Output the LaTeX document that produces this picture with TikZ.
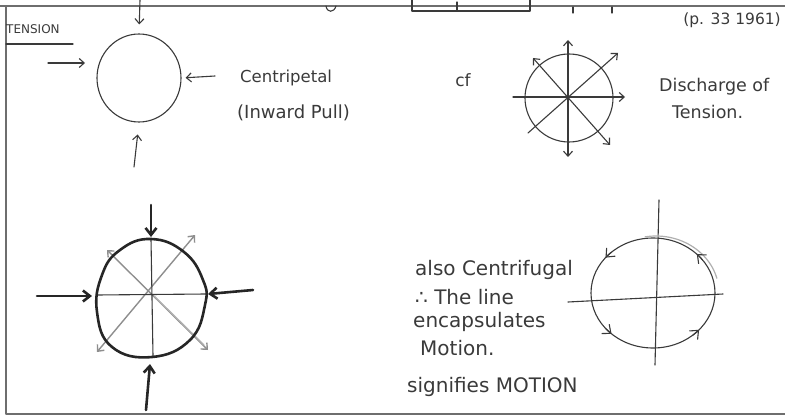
\documentclass[tikz,border=0pt]{standalone}
\usepackage{fontspec}
\setmainfont{DejaVu Sans}
\usetikzlibrary{arrows.meta,shapes.geometric}
\definecolor{ink}{HTML}{3A3A3A}
\definecolor{faint}{HTML}{8E8E8E}
\definecolor{edge}{HTML}{6E6E6E}
\tikzset{
  >={Straight Barb[length=5pt,width=9pt]},
  pen/.style={draw=ink,line width=1.1pt},
  heavy/.style={draw=black!85,line width=2.6pt},
  grey/.style={draw=faint,line width=1.4pt},
  ring/.style={ellipse,pen,inner sep=0pt},
  hand/.style={text=ink,font=\fontsize{#1}{#1}\selectfont,inner sep=0pt},
  hand/.default=13,
  frame/.style={draw=edge,line width=1.6pt}
}
\begin{document}
\begin{tikzpicture}[x=1pt,y=-1pt,line cap=round,line join=round]
\useasboundingbox (0,0) rectangle (785,417);
\draw[frame] (0,6) -- (785,6);
\draw[frame] (6,6) -- (6,414) -- (785,414);
% bits cut off at the top edge
\draw[pen] (412,0) -- (412,11) -- (530,11) -- (530,0);
\draw[pen] (457,2) -- (457,11);
\draw[pen] (573,7) -- (573,13);
\draw[pen] (612,7) -- (612,13);
\draw[pen] (326,6) .. controls (327,13) and (334,13) .. (336,6);

% top left: inward pull
\node[ring,minimum width=84pt,minimum height=88pt] (pull) at (139,78) {};
\node[hand=12,anchor=west] (tension) at (6,29) {TENSION};
\draw[pen] (6,44) -- (73,44);
\node[hand=16.5,anchor=west] (centri) at (240,78) {Centripetal};
\node[hand=18,anchor=west] (inward) at (237,113) {(Inward Pull)};
\coordinate (pN) at (140,0);
\coordinate (pW) at (48,63);
\coordinate (pE) at (215,76);
\coordinate (pS) at (134,167);
\draw[pen,->,shorten >=9pt] (pN) -- (pull.north);
\draw[pen,->] (pW) -- (85,63);
\draw[pen,->,shorten >=4pt] (pE) -- (pull.east);
\draw[pen,->,shorten >=12pt] (pS) -- (pull.south);

% top right: discharge
\node[hand=15.5,anchor=east] (page) at (781,20) {(p. 33 1961)};
\node[hand=17] (cf) at (463,80) {cf};
\node[ring,minimum width=88pt,minimum height=88pt] (disch) at (569,98) {};
\node[hand=17.5,anchor=west] (dis) at (659,87) {Discharge of};
\node[hand=17.5,anchor=west] (ten) at (672,112) {Tension.};
\coordinate (dW) at (513,97);
\coordinate (dE) at (625,97);
\coordinate (dN) at (568,40);
\coordinate (dS) at (568,157);
\coordinate (dNE) at (618,53);
\coordinate (dSW) at (528,133);
\coordinate (dNW) at (533,58);
\coordinate (dSE) at (610,145);
\draw[pen,->] (dW) -- (dE);
\draw[pen,<->] (dS) -- (dN);
\draw[pen,->] (dSW) -- (dNE);
\draw[pen,<->] (dSE) -- (dNW);

% bottom left: both ways
\coordinate (egg) at (151,297);
\coordinate (eN) at (151,205);
\coordinate (eW) at (37,296);
\coordinate (eE) at (253,290);
\coordinate (eS) at (146,410);
\coordinate (gNE) at (195,235);
\coordinate (gSW) at (97,352);
\coordinate (gNW) at (107,250);
\coordinate (gSE) at (208,350);
\draw[grey,<->] (gSW) -- (gNE);
\draw[grey,<->] (gNW) -- (gSE);
\draw[grey,draw=faint!70] (154,296) -- (204,345);
\draw[pen] (151,239) -- (153,356);
\draw[pen] (97,295) -- (206,294);
\draw[heavy] plot[smooth cycle,tension=0.75] coordinates
  {(151,239) (184,252) (203,280) (205,305) (190,340) (152,357) (112,347) (97,312) (102,275) (120,250)};
\draw[heavy,->,>={Straight Barb[length=7pt,width=11pt]}] (eN) -- (151,237);
\draw[heavy,->,>={Straight Barb[length=7pt,width=11pt]}] (eW) -- (92,296);
\draw[heavy,->,>={Straight Barb[length=7pt,width=11pt]}] (eE) -- (208,294);
\draw[heavy,->,>={Straight Barb[length=7pt,width=11pt]}] (eS) -- (150,364);

% bottom right: motion
\node[hand=20,anchor=west] (also) at (415,270) {also Centrifugal};
\node[hand=20,anchor=west] (line) at (415,297) {∴ The line};
\node[hand=20,anchor=west] (enc) at (413,322) {encapsulates};
\node[hand=20,anchor=west] (mot) at (420,348) {Motion.};
\node[hand=20,anchor=west] (sig) at (407,387) {signifies MOTION};
\node[ring,minimum width=124pt,minimum height=110pt] (orbit) at (653,293) {};
\coordinate (mN) at (659,200);
\coordinate (mS) at (655,365);
\coordinate (mW) at (568,302);
\coordinate (mE) at (723,294);
\draw[pen] (mN) -- (mS);
\draw[pen] (mW) -- (mE);
\draw[grey,draw=faint!70,line width=1.2pt] plot[domain=15:100,samples=30,smooth] ({656+63*cos(\x)},{293-57*sin(\x)});
\foreach \a in {45,140,228,318}
  \draw[pen,->,>={Straight Barb[length=7pt,width=12pt]}] plot[domain=\a-8:\a,samples=5,smooth] ({653+62*cos(\x)},{293-55*sin(\x)});
\end{tikzpicture}
\end{document}
